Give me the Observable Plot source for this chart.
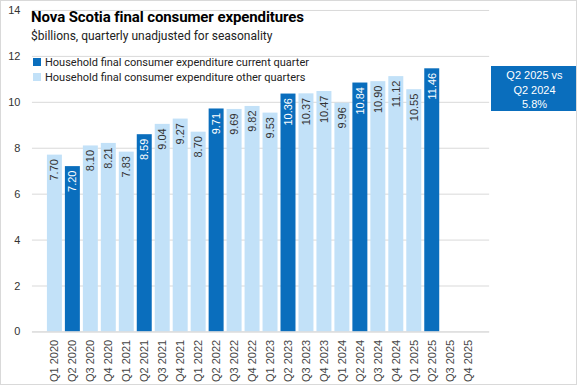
<!DOCTYPE html>
<html>
<head>
<meta charset="utf-8">
<script src="https://cdn.jsdelivr.net/npm/d3@7"></script>
<script src="https://cdn.jsdelivr.net/npm/@observablehq/plot@0.6"></script>
<style>
  html, body { margin: 0; padding: 0; background: #fff; }
  #wrap { position: relative; width: 575px; height: 383px; border: 1px solid #d9d9d9; overflow: hidden; font-family: "Liberation Sans", Arial, sans-serif; }
  #chart { position: absolute; left: -1px; top: -1px; }
  .title { position: absolute; left: 30px; top: 7px; font-family: Roboto, sans-serif; font-weight: bold; font-size: 15px; color: #000; letter-spacing: -0.1px; }
  .subtitle { position: absolute; left: 30px; top: 28px; font-family: Roboto, sans-serif; font-size: 12px; color: #222; }
  .legend { position: absolute; left: 32px; font-family: Roboto, sans-serif; font-size: 11px; color: #222; line-height: 14px; }
  .legend span.sw { display: inline-block; width: 8px; height: 8px; margin-right: 4px; vertical-align: 0px; }
  .box { position: absolute; left: 490px; top: 65px; width: 87px; height: 45px; background: #0A6EBD; color: #fff; font-family: "Liberation Sans", Arial, sans-serif; font-size: 11px; line-height: 14.5px; text-align: center; padding-top: 2px; box-sizing: border-box; }
</style>
</head>
<body>
<div id="wrap">
  <div id="chart"></div>
  <div class="title">Nova Scotia final consumer expenditures</div>
  <div class="subtitle">$billions, quarterly unadjusted for seasonality</div>
  <div class="legend" style="top:55px"><span class="sw" style="background:#0A6EBD"></span>Household final consumer expenditure current quarter</div>
  <div class="legend" style="top:70px"><span class="sw" style="background:#C2E1F8"></span>Household final consumer expenditure other quarters</div>
  <div class="box">Q2 2025 vs<br>Q2 2024<br>5.8%</div>
</div>
<script>
const quarters = ["Q1 2020","Q2 2020","Q3 2020","Q4 2020","Q1 2021","Q2 2021","Q3 2021","Q4 2021","Q1 2022","Q2 2022","Q3 2022","Q4 2022","Q1 2023","Q2 2023","Q3 2023","Q4 2023","Q1 2024","Q2 2024","Q3 2024","Q4 2024","Q1 2025","Q2 2025","Q3 2025","Q4 2025"];
const values = [7.70,7.20,8.10,8.21,7.83,8.59,9.04,9.27,8.70,9.71,9.69,9.82,9.53,10.36,10.37,10.47,9.96,10.84,10.90,11.12,10.55,11.46,null,null];
const yTicks = [0,2,4,6,8,10,12,14];
const currentQuarter = "Q2";
const colorCurrent = "#0A6EBD";
const colorOther = "#C2E1F8";

const data = quarters.map((q, i) => ({q, v: values[i], cur: q.startsWith(currentQuarter)}));
const bars = data.filter(d => d.v != null);

const chart = Plot.plot({
  width: 577,
  height: 385,
  marginLeft: 32,
  marginRight: 87,
  marginTop: 10,
  marginBottom: 53,
  style: {fontFamily: "Liberation Sans, Arial, sans-serif", fontSize: "11px", color: "#333", background: "transparent"},
  x: {domain: quarters, padding: 0.17, label: null},
  y: {domain: [0, 14], label: null},
  marks: [
    Plot.gridY(yTicks, {stroke: "#d9d9d9", strokeOpacity: 1}),
    Plot.barY(bars, {x: "q", y: "v", fill: d => d.cur ? colorCurrent : colorOther}),
    Plot.text(bars, {x: "q", y: "v", text: d => d.v.toFixed(2), rotate: -90, textAnchor: "end", lineAnchor: "middle", dy: 4, fontSize: 11, fill: d => d.cur ? "#fff" : "#333"}),
    Plot.ruleY([0], {stroke: "#d9d9d9"}),
    Plot.axisY({ticks: yTicks, tickSize: 0, tickPadding: 12, fontSize: 11, fill: "#333"}),
    Plot.axisX({tickSize: 0, tickPadding: 8, tickRotate: -90, fontSize: 11, fill: "#444"})
  ]
});
document.getElementById("chart").appendChild(chart);
</script>
</body>
</html>
